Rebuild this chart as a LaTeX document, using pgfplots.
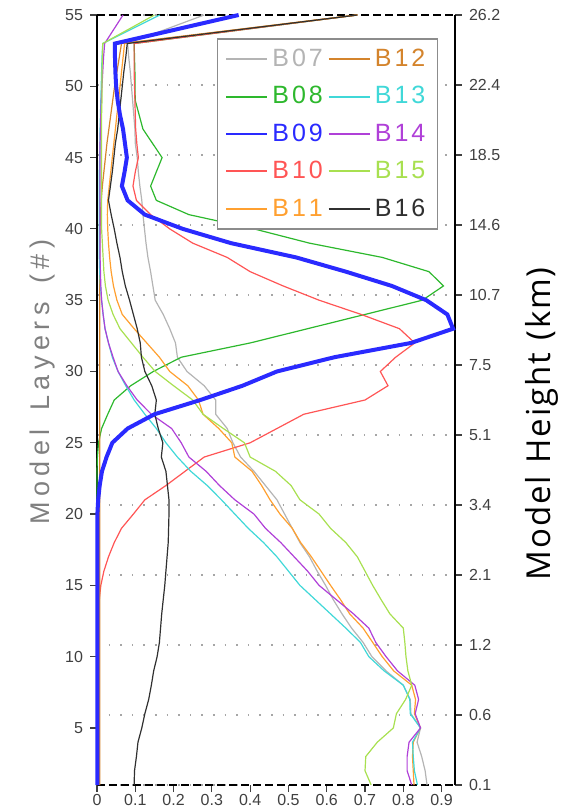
\documentclass[border=0pt]{standalone}
\usepackage{fontspec}
\setmainfont{Liberation Sans}
\newfontfamily\tickfont{Liberation Sans}
\newfontfamily\rlabfont{Open Sans}
\usepackage{pgfplots}
\usepackage{pgfplotstable}
\pgfplotsset{compat=1.18}

% letter-spaced text: \spaced{kern}{tokens}, spaces written as ~
\newcommand\spaced[2]{\def\lsk{#1}\spacedaux#2\relax}
\def\spacedaux#1#2{#1\ifx#2\relax\else\kern\lsk\relax\expandafter\spacedaux\expandafter#2\fi}

\definecolor{cB07}{HTML}{B4B4B4}
\definecolor{cB08}{HTML}{2DB82D}
\definecolor{cB09}{HTML}{2A2AFF}
\definecolor{cB10}{HTML}{FF5555}
\definecolor{cB11}{HTML}{FFA030}
\definecolor{cB12}{HTML}{D4842C}
\definecolor{cB13}{HTML}{40D8D8}
\definecolor{cB14}{HTML}{B040D8}
\definecolor{cB15}{HTML}{A8E050}
\definecolor{cB16}{HTML}{303030}

\pgfplotstableread{
L   B07   B08   B09   B10   B11   B12   B13   B14   B15   B16
55 0.280 0.680 0.370 0.680 0.680 0.680 0.164 0.068 0.150 0.680
53 0.080 0.097 0.047 0.097 0.072 0.064 0.015 0.020 0.015 0.079
52 0.083 0.098 0.047 0.097 0.068 0.058 0.013 0.017 0.014 0.075
51 0.087 0.099 0.048 0.097 0.064 0.052 0.012 0.015 0.013 0.070
50 0.090 0.099 0.050 0.098 0.060 0.046 0.011 0.013 0.013 0.066
49 0.093 0.100 0.054 0.099 0.056 0.041 0.010 0.011 0.013 0.062
48 0.096 0.110 0.060 0.100 0.052 0.036 0.009 0.010 0.012 0.058
47 0.099 0.120 0.068 0.101 0.048 0.031 0.008 0.009 0.012 0.054
46 0.100 0.145 0.073 0.104 0.044 0.026 0.008 0.008 0.012 0.048
45 0.105 0.170 0.078 0.108 0.040 0.022 0.007 0.008 0.012 0.044
44 0.108 0.155 0.072 0.100 0.036 0.018 0.006 0.008 0.012 0.040
43 0.112 0.140 0.065 0.094 0.032 0.014 0.006 0.008 0.012 0.035
42 0.117 0.155 0.080 0.103 0.028 0.011 0.006 0.008 0.012 0.030
41 0.120 0.240 0.125 0.140 0.027 0.009 0.006 0.008 0.012 0.037
40 0.124 0.410 0.224 0.190 0.028 0.008 0.006 0.008 0.012 0.045
39 0.128 0.555 0.350 0.250 0.030 0.007 0.006 0.008 0.014 0.052
38 0.133 0.745 0.520 0.340 0.033 0.007 0.006 0.008 0.016 0.060
37 0.140 0.867 0.650 0.400 0.037 0.007 0.007 0.009 0.018 0.066
36 0.146 0.905 0.770 0.486 0.043 0.007 0.009 0.010 0.022 0.074
35 0.152 0.850 0.860 0.580 0.052 0.007 0.012 0.012 0.029 0.085
34 0.173 0.700 0.915 0.690 0.066 0.007 0.016 0.016 0.042 0.095
33 0.190 0.550 0.930 0.790 0.097 0.007 0.021 0.021 0.060 0.105
32 0.205 0.400 0.820 0.830 0.130 0.007 0.030 0.030 0.090 0.113
31 0.210 0.220 0.620 0.780 0.163 0.007 0.040 0.042 0.120 0.116
30 0.235 0.147 0.470 0.740 0.190 0.007 0.055 0.055 0.152 0.125
29 0.280 0.088 0.380 0.760 0.237 0.007 0.075 0.078 0.200 0.143
28 0.310 0.045 0.270 0.700 0.265 0.007 0.097 0.105 0.250 0.155
27 0.310 0.028 0.150 0.540 0.277 0.007 0.125 0.142 0.277 0.151
26 0.340 0.012 0.080 0.470 0.318 0.007 0.155 0.195 0.330 0.160
25 0.355 0.004 0.040 0.400 0.352 0.007 0.180 0.220 0.385 0.172
24 0.375 0.001 0.025 0.280 0.360 0.007 0.210 0.240 0.400 0.168
23 0.410 0.000 0.013 0.230 0.405 0.007 0.245 0.285 0.466 0.180
22 0.440 0.000 0.007 0.180 0.430 0.007 0.288 0.320 0.507 0.184
21 0.470 0.000 0.003 0.125 0.452 0.007 0.325 0.360 0.530 0.188
20 0.490 0.000 0.001 0.095 0.478 0.007 0.360 0.410 0.580 0.188
19 0.510 0.000 0.001 0.064 0.510 0.007 0.395 0.440 0.610 0.187
18 0.530 0.000 0.001 0.045 0.532 0.007 0.435 0.480 0.650 0.186
17 0.555 0.000 0.001 0.030 0.560 0.007 0.470 0.515 0.680 0.183
16 0.575 0.000 0.001 0.018 0.585 0.007 0.500 0.550 0.700 0.180
15 0.597 0.000 0.001 0.010 0.610 0.007 0.530 0.580 0.720 0.177
14 0.617 0.000 0.001 0.006 0.636 0.007 0.570 0.625 0.742 0.173
13 0.640 0.000 0.001 0.004 0.660 0.007 0.610 0.670 0.765 0.169
12 0.665 0.000 0.001 0.003 0.695 0.007 0.650 0.710 0.800 0.166
11 0.695 0.000 0.001 0.002 0.720 0.007 0.688 0.728 0.804 0.163
10 0.718 0.000 0.001 0.002 0.745 0.007 0.710 0.755 0.807 0.157
9  0.755 0.000 0.001 0.002 0.775 0.007 0.750 0.785 0.812 0.148
8  0.800 0.000 0.001 0.002 0.822 0.007 0.800 0.830 0.822 0.142
7  0.818 0.000 0.001 0.002 0.832 0.007 0.817 0.840 0.806 0.135
6  0.820 0.000 0.001 0.002 0.829 0.007 0.818 0.831 0.782 0.125
5  0.845 0.000 0.001 0.002 0.845 0.007 0.845 0.845 0.774 0.117
4  0.836 0.000 0.001 0.002 0.826 0.007 0.824 0.815 0.732 0.107
3  0.848 0.000 0.001 0.002 0.824 0.007 0.826 0.810 0.702 0.103
2  0.857 0.000 0.001 0.002 0.826 0.007 0.829 0.810 0.700 0.098
1  0.862 0.000 0.001 0.002 0.828 0.007 0.837 0.822 0.716 0.097
}\profiles

\begin{document}
\begin{tikzpicture}
% right-hand axis (model height) with dotted grid
\begin{axis}[
  width=179pt, height=385pt, scale only axis,
  xmin=0, xmax=0.935, ymin=1, ymax=55,
  axis x line=none, axis y line*=right,
  y axis line style={line width=1pt, draw=black!75, -},
  ytick={1,5.909,10.818,15.727,20.636,25.545,30.455,35.364,40.273,45.182,50.091,55},
  yticklabels={0.1,0.6,1.2,2.1,3.4,5.1,7.5,10.7,14.6,18.5,22.4,26.2},
  tick align=outside, major tick length=3.5pt,
  tick style={line width=0.6pt, black!75},
  ymajorgrids,
  grid style={black!35, line width=0.8pt, dash pattern=on 0.8pt off 5pt},
  yticklabel style={font=\tickfont\fontsize{8}{9}\selectfont, text=black!75},
  ylabel={\spaced{0.95pt}{Model~Height~(km)}},
  ylabel style={font=\rlabfont\fontsize{16.5}{18}\selectfont, at={(ticklabel cs:0.469,5.5pt)}},
]
\addplot[draw=none, forget plot] coordinates {(0.5,1) (0.5,55)};
\end{axis}
% main axis
\begin{axis}[
  width=179pt, height=385pt, scale only axis,
  xmin=0, xmax=0.935, ymin=1, ymax=55, clip=false,
  separate axis lines,
  x axis line style={line width=0.6pt, dash pattern=on 4pt off 2pt, -},
  y axis line style={line width=1pt, -},
  tick pos=left, tick align=outside, major tick length=3.5pt,
  tick style={line width=0.6pt, black!75},
  xtick={0,0.1,0.2,0.3,0.4,0.5,0.6,0.7,0.8,0.9},
  xticklabels={0,0.1,0.2,0.3,0.4,0.5,0.6,0.7,0.8,0.9},
  ytick={5,10,15,20,25,30,35,40,45,50,55},
  yticklabels={5,10,15,20,25,30,35,40,45,50,55},
  /pgf/number format/assume math mode=true,
  ticklabel style={font=\tickfont\fontsize{8}{9}\selectfont, text=black!75},
  xticklabel style={inner sep=1pt},
  ylabel={\spaced{2.75pt}{Model~Layers~(\#)}},
  ylabel style={font=\fontsize{13.5}{15}\selectfont, text=black!50, at={(ticklabel cs:0.523,-2pt)}},
  legend columns=2,
  legend cell align=left,
  legend image code/.code={\draw[#1] (0pt,0pt) -- (13.5pt,0pt); \path (0pt,0pt) -- (20.5pt,0pt);},
  legend style={at={(0.334,0.970)}, anchor=north west, draw=black!45, line width=0.8pt,
    fill=white, font=\fontsize{12.5}{14}\selectfont, row sep=4.5pt,
    inner xsep=4pt, inner ysep=3pt,
    /tikz/every even column/.append style={column sep=0.5pt}},
]
\coordinate (sw) at (rel axis cs:0,0);
\addplot[cB07, line width=0.6pt, forget plot] table[x=B07, y=L] {\profiles};
\addplot[cB08, line width=0.6pt, forget plot] table[x=B08, y=L] {\profiles};
\addplot[cB10, line width=0.6pt, forget plot] table[x=B10, y=L] {\profiles};
\addplot[cB11, line width=0.6pt, forget plot] table[x=B11, y=L] {\profiles};
\addplot[cB12, line width=0.6pt, forget plot] table[x=B12, y=L] {\profiles};
\addplot[cB13, line width=0.6pt, forget plot] table[x=B13, y=L] {\profiles};
\addplot[cB14, line width=0.6pt, forget plot] table[x=B14, y=L] {\profiles};
\addplot[cB15, line width=0.6pt, forget plot] table[x=B15, y=L] {\profiles};
\addplot[cB16, line width=0.6pt, forget plot] table[x=B16, y=L] {\profiles};
\addplot[cB09, line width=2pt, forget plot] table[x=B09, y=L] {\profiles};
\addlegendimage{cB07, line width=1pt}\addlegendentry[text=cB07]{\spaced{1.5pt}{B07}}
\addlegendimage{cB12, line width=1pt}\addlegendentry[text=cB12]{\spaced{1.5pt}{B12}}
\addlegendimage{cB08, line width=1pt}\addlegendentry[text=cB08]{\spaced{1.5pt}{B08}}
\addlegendimage{cB13, line width=1pt}\addlegendentry[text=cB13]{\spaced{1.5pt}{B13}}
\addlegendimage{cB09, line width=1pt}\addlegendentry[text=cB09]{\spaced{1.5pt}{B09}}
\addlegendimage{cB14, line width=1pt}\addlegendentry[text=cB14]{\spaced{1.5pt}{B14}}
\addlegendimage{cB10, line width=1pt}\addlegendentry[text=cB10]{\spaced{1.5pt}{B10}}
\addlegendimage{cB15, line width=1pt}\addlegendentry[text=cB15]{\spaced{1.5pt}{B15}}
\addlegendimage{cB11, line width=1pt}\addlegendentry[text=cB11]{\spaced{1.5pt}{B11}}
\addlegendimage{cB16, line width=1pt}\addlegendentry[text=cB16]{\spaced{1.5pt}{B16}}
\end{axis}
\path (sw) ++(-48.5pt,-11.5pt) rectangle ++(282pt,404pt);
\end{tikzpicture}
\end{document}
